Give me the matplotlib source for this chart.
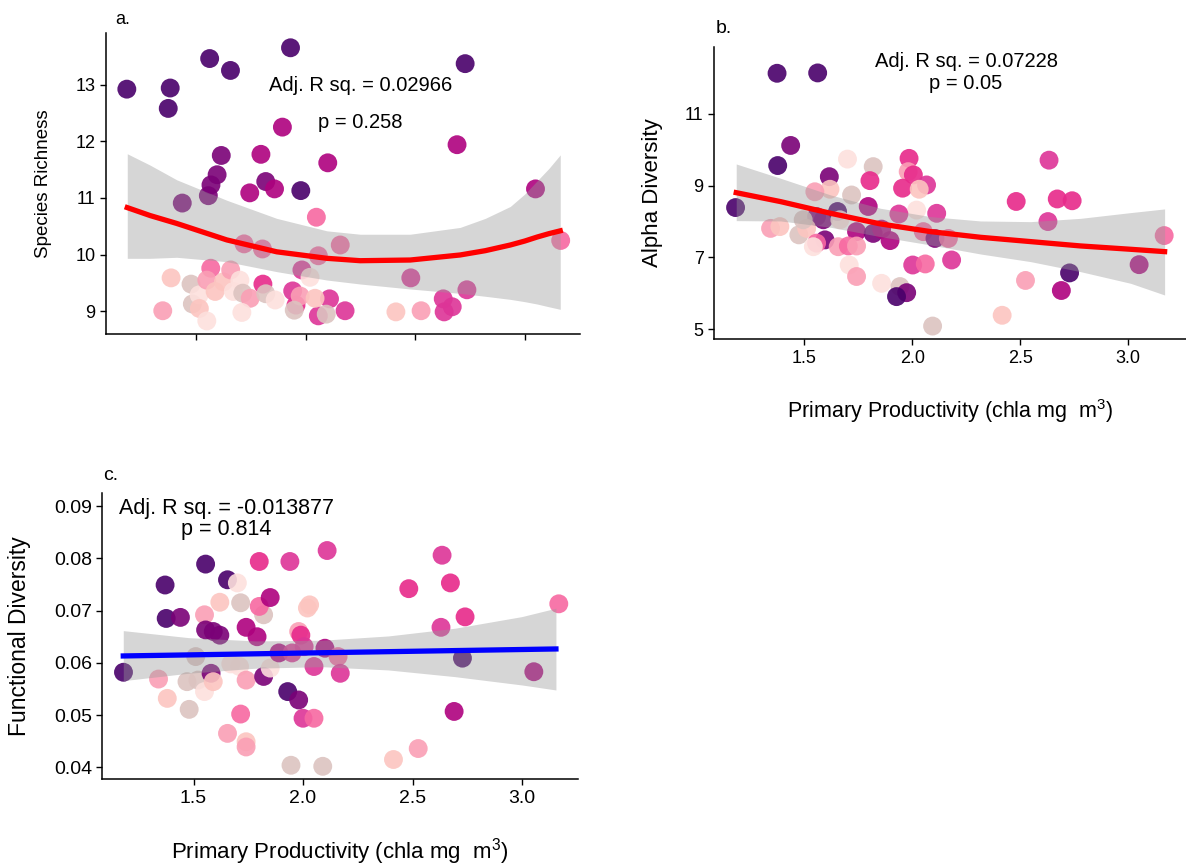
import numpy as np
import matplotlib
matplotlib.use("Agg")
import matplotlib.pyplot as plt
from matplotlib.ticker import FormatStrFormatter

plt.rcParams['font.family'] = ['Liberation Sans', 'DejaVu Sans']
plt.rcParams['mathtext.fontset'] = 'custom'
plt.rcParams['mathtext.rm'] = 'Liberation Sans'

#colour classes (RdPu style) used by the points
palette = {
    'dp': '#49006a', 'pu': '#7a0177', 'mg': '#ae017e', 'pm': '#dd3497',
    'hp': '#e7298a', 'pk': '#f768a1', 'lp': '#fa9fb5', 'pe': '#fcc5c0',
    'vl': '#fde0dd', 'gp': '#dcc3c0',
}

#panel a - species richness
a_x = [1.184, 1.382, 1.373, 1.562, 1.657, 1.931, 2.728, 1.894, 2.691, 1.615,
       1.796, 1.596, 1.568, 1.556, 1.818, 1.858, 1.745, 1.978, 2.101, 1.437,
       3.049, 2.049, 1.719, 1.803, 2.058, 2.158, 1.983, 2.020, 2.480, 3.164,
       2.736, 2.628, 2.669, 2.632, 2.412, 2.527, 2.180, 2.109, 2.058, 2.094,
       1.956, 1.941, 1.975, 2.043, 1.805, 1.948, 1.386, 1.348, 1.477, 1.483,
       1.514, 1.515, 1.549, 1.567, 1.549, 1.587, 1.625, 1.658, 1.670, 1.700,
       1.713, 1.747, 1.709, 1.818, 1.861]
a_y = [12.92, 12.94, 12.58, 13.46, 13.25, 13.65, 13.37, 12.25, 11.94, 11.75,
       11.77, 11.41, 11.23, 11.04, 11.29, 11.16, 11.09, 11.13, 11.62, 10.91,
       11.16, 10.66, 10.19, 10.10, 9.98, 10.17, 9.73, 9.60, 9.59, 10.25,
       9.38, 9.22, 9.08, 8.99, 8.99, 9.01, 9.01, 9.22, 8.92, 8.95,
       9.11, 9.36, 9.27, 9.23, 9.48, 9.02, 9.59, 9.01, 9.48, 9.13,
       9.29, 9.05, 8.83, 9.76, 9.55, 9.35, 9.52, 9.73, 9.35, 9.55,
       9.32, 9.23, 8.98, 9.31, 9.20]
a_grp = ['dp', 'dp', 'dp', 'dp', 'dp', 'dp', 'dp', 'mg', 'mg', 'pu',
         'mg', 'pu', 'pu', 'pu', 'pu', 'mg', 'mg', 'dp', 'mg', 'pu',
         'mg', 'pk', 'pk', 'pk', 'pk', 'pk', 'pm', 'vl', 'pm', 'pk',
         'pm', 'pm', 'pm', 'pm', 'pe', 'lp', 'pm', 'pm', 'pm', 'gp',
         'hp', 'pm', 'lp', 'pe', 'hp', 'gp', 'pe', 'lp', 'gp', 'gp',
         'vl', 'pe', 'vl', 'pk', 'lp', 'pe', 'pe', 'lp', 'vl', 'vl',
         'gp', 'lp', 'vl', 'gp', 'vl']

#fitted curve (quadratic) and its confidence band
a_fit_x = [1.186, 1.29, 1.412, 1.640, 1.868, 2.097, 2.249, 2.477, 2.705, 2.82,
           2.934, 3.0, 3.056, 3.11, 3.162]
a_fit_y = [10.83, 10.69, 10.55, 10.26, 10.05, 9.935, 9.893, 9.905, 9.994, 10.07,
           10.17, 10.24, 10.31, 10.37, 10.42]
a_fit_hi = [11.78, 11.58, 11.32, 10.96, 10.64, 10.42, 10.36, 10.36, 10.48, 10.64,
            10.85, 11.07, 11.30, 11.52, 11.76]
a_fit_lo = [9.935, 9.935, 9.953, 9.876, 9.70, 9.552, 9.482, 9.394, 9.317, 9.265,
            9.211, 9.17, 9.129, 9.08, 9.035]

#panel b - alpha diversity
b_x = [1.182, 1.437, 1.377, 1.374, 1.562, 1.700, 1.819, 1.985, 1.981, 2.005,
       2.066, 1.955, 2.032, 1.804, 1.616, 1.619, 1.549, 1.719, 1.796, 2.020,
       1.938, 2.113, 1.557, 1.588, 1.654, 1.344, 1.387, 1.475, 1.511, 1.495,
       1.665, 1.742, 1.819, 1.858, 1.897, 2.051, 2.105, 2.167, 1.596, 1.557,
       1.542, 1.657, 1.704, 1.742, 1.708, 1.742, 1.858, 1.943, 1.974, 1.927,
       2.002, 2.060, 2.182, 2.094, 2.481, 2.633, 2.628, 2.671, 2.740, 2.524,
       2.416, 2.728, 2.690, 3.050, 3.166]
b_y = [8.39, 10.12, 9.56, 12.13, 12.14, 9.74, 9.53, 9.76, 9.39, 9.30,
       9.02, 8.93, 8.90, 9.14, 9.25, 8.90, 8.83, 8.74, 8.42, 8.32,
       8.21, 8.23, 8.14, 8.05, 8.28, 7.81, 7.86, 7.63, 7.81, 8.05,
       8.05, 7.72, 7.67, 7.79, 7.47, 7.72, 7.53, 7.53, 7.49, 7.40,
       7.30, 7.30, 7.32, 7.32, 6.79, 6.47, 6.28, 6.19, 6.02, 5.91,
       6.79, 6.82, 6.93, 5.09, 8.56, 9.71, 8.00, 8.63, 8.58, 6.36,
       5.39, 6.57, 6.08, 6.80, 7.61]
b_grp = ['dp', 'pu', 'dp', 'dp', 'dp', 'vl', 'gp', 'hp', 'lp', 'hp',
         'pm', 'hp', 'pe', 'hp', 'pu', 'pe', 'lp', 'gp', 'mg', 'vl',
         'pm', 'pm', 'pu', 'pu', 'dp', 'lp', 'pe', 'gp', 'pe', 'gp',
         'vl', 'mg', 'pu', 'mg', 'mg', 'pk', 'pu', 'pk', 'pu', 'pk',
         'vl', 'lp', 'pk', 'lp', 'vl', 'lp', 'vl', 'gp', 'pu', 'dp',
         'pm', 'pk', 'pm', 'gp', 'hp', 'pm', 'pm', 'hp', 'hp', 'lp',
         'pe', 'dp', 'mg', 'mg', 'pk']

b_fit_x = [1.185, 1.391, 1.622, 1.853, 2.085, 2.316, 2.548, 2.779, 3.011, 3.168]
b_fit_y = [8.805, 8.555, 8.23, 7.934, 7.72, 7.562, 7.442, 7.321, 7.228, 7.163]
b_fit_hi = [9.604, 9.205, 8.741, 8.37, 8.138, 8.017, 7.998, 8.09, 8.25, 8.352]
b_fit_lo = [8.026, 8.017, 7.841, 7.58, 7.348, 7.097, 6.884, 6.605, 6.28, 5.955]

#panel c - functional diversity
c_x = [1.180, 1.340, 1.380, 1.370, 1.375, 1.440, 1.480, 1.510, 1.470, 1.520,
       1.550, 1.550, 1.555, 1.555, 1.590, 1.620, 1.580, 1.590, 1.620, 1.655,
       1.700, 1.715, 1.670, 1.710, 1.740, 1.715, 1.655, 1.740, 1.740, 1.740,
       1.790, 1.820, 1.800, 1.800, 1.850, 1.820, 1.850, 1.890, 1.930, 1.980,
       1.940, 1.950, 1.980, 1.990, 2.005, 2.020, 2.030, 1.945, 2.090, 2.000,
       2.050, 2.110, 2.100, 2.050, 2.160, 2.170, 2.483, 2.413, 2.526, 2.630,
       2.635, 2.673, 2.690, 2.728, 2.740, 3.054, 3.168]
c_y = [0.0582, 0.0569, 0.0532, 0.0749, 0.0685, 0.0687, 0.0511, 0.0612, 0.0564, 0.0567,
       0.0545, 0.0692, 0.0789, 0.0663, 0.0660, 0.0653, 0.0580, 0.0564, 0.0716, 0.0759,
       0.0753, 0.0715, 0.0598, 0.0593, 0.0567, 0.0502, 0.0465, 0.0449, 0.0439, 0.0668,
       0.0650, 0.0692, 0.0794, 0.0708, 0.0725, 0.0574, 0.0590, 0.0619, 0.0545, 0.0529,
       0.0794, 0.0619, 0.0660, 0.0653, 0.0631, 0.0705, 0.0711, 0.0404, 0.0402, 0.0494,
       0.0494, 0.0815, 0.0628, 0.0593, 0.0612, 0.0580, 0.0742, 0.0415, 0.0436, 0.0668,
       0.0806, 0.0753, 0.0507, 0.0609, 0.0688, 0.0583, 0.0713]
c_grp = ['dp', 'lp', 'pe', 'dp', 'dp', 'pu', 'gp', 'gp', 'gp', 'gp',
         'vl', 'lp', 'dp', 'pu', 'pu', 'pu', 'pu', 'pe', 'pe', 'dp',
         'vl', 'gp', 'vl', 'vl', 'lp', 'pk', 'lp', 'pe', 'lp', 'mg',
         'mg', 'gp', 'hp', 'pk', 'mg', 'pu', 'vl', 'mg', 'dp', 'pu',
         'pm', 'pm', 'lp', 'hp', 'pm', 'pe', 'pe', 'gp', 'gp', 'pm',
         'pk', 'pm', 'mg', 'pm', 'pk', 'pm', 'hp', 'pe', 'lp', 'pm',
         'pm', 'hp', 'mg', 'dp', 'hp', 'mg', 'pk']

#straight line fit: only the two ends are needed, band sampled along x
c_fit_x = [1.179, 3.155]
c_fit_y = [0.06132, 0.06266]
c_band_x = [1.179, 1.476, 1.781, 2.085, 2.390, 2.694, 2.999, 3.155]
c_fit_hi = [0.06617, 0.06483, 0.0642, 0.06433, 0.06515, 0.06663, 0.06885, 0.07046]
c_fit_lo = [0.05659, 0.05801, 0.05897, 0.05927, 0.05864, 0.05736, 0.05577, 0.05481]

xlab = 'Primary Productivity (chla mg  m$^{3}$)'


def draw_panel(ax, x, y, grp, fit_x, fit_y, band_x, lo, hi, line_col):
    cols = [palette[g] for g in grp]
    ax.scatter(x, y, c=cols, s=185, alpha=0.9, linewidths=0, zorder=2)
    #band goes over the points, like geom_smooth
    ax.fill_between(band_x, lo, hi, color='#999999', alpha=0.4, linewidth=0, zorder=3)
    ax.plot(fit_x, fit_y, color=line_col, lw=3.8, zorder=4, solid_joinstyle='round')
    for side in ['top', 'right']:
        ax.spines[side].set_visible(False)
    for side in ['left', 'bottom']:
        ax.spines[side].set_linewidth(1.1)
    ax.tick_params(direction='out', length=4, width=1.0, labelsize=13, colors='black')


fig = plt.figure(figsize=(11.86, 8.65), dpi=100)

#a.
ax_a = fig.add_axes([0.0892, 0.6135, 0.4, 0.3483])
draw_panel(ax_a, a_x, a_y, a_grp, a_fit_x, a_fit_y, a_fit_x, a_fit_lo, a_fit_hi, 'red')
ax_a.set_xlim(1.088, 3.253)
ax_a.set_ylim(8.594, 13.91)
ax_a.set_xticks([1.5, 2.0, 2.5, 3.0])
ax_a.set_yticks([9, 10, 11, 12, 13])
ax_a.tick_params(labelbottom=False)
ax_a.set_ylabel('Species Richness', fontsize=13.5)
ax_a.yaxis.set_label_coords(-0.113, 0.5)
ax_a.text(2.249, 12.98, 'Adj. R sq. = 0.02966', fontsize=14.5, ha='center', va='center')
ax_a.text(2.249, 12.33, 'p = 0.258', fontsize=14.5, ha='center', va='center')
ax_a.text(0.02, 1.046, 'a.', transform=ax_a.transAxes, fontsize=13, ha='left', va='center')

#b.
ax_b = fig.add_axes([0.602, 0.6077, 0.398, 0.3383])
draw_panel(ax_b, b_x, b_y, b_grp, b_fit_x, b_fit_y, b_fit_x, b_fit_lo, b_fit_hi, 'red')
ax_b.set_xlim(1.082, 3.267)
ax_b.set_ylim(4.72, 12.87)
ax_b.set_xticks([1.5, 2.0, 2.5, 3.0])
ax_b.set_yticks([5, 7, 9, 11])
ax_b.xaxis.set_major_formatter(FormatStrFormatter('%.1f'))
ax_b.set_ylabel('Alpha Diversity', fontsize=16)
ax_b.yaxis.set_label_coords(-0.107, 0.5)
ax_b.set_xlabel(xlab, fontsize=15.5)
ax_b.xaxis.set_label_coords(0.5, -0.246)
ax_b.xaxis.label.set_va('center')
ax_b.text(2.249, 12.47, 'Adj. R sq. = 0.07228', fontsize=14.5, ha='center', va='center')
ax_b.text(2.249, 11.85, 'p = 0.05', fontsize=14.5, ha='center', va='center')
ax_b.text(0.004, 1.063, 'b.', transform=ax_b.transAxes, fontsize=14, ha='left', va='center')

#c.
ax_c = fig.add_axes([0.0864, 0.099, 0.401, 0.331])
draw_panel(ax_c, c_x, c_y, c_grp, c_fit_x, c_fit_y, c_band_x, c_fit_lo, c_fit_hi, 'blue')
ax_c.set_xlim(1.084, 3.256)
ax_c.set_ylim(0.0377, 0.0925)
ax_c.set_xticks([1.5, 2.0, 2.5, 3.0])
ax_c.set_yticks([0.04, 0.05, 0.06, 0.07, 0.08, 0.09])
ax_c.xaxis.set_major_formatter(FormatStrFormatter('%.1f'))
ax_c.yaxis.set_major_formatter(FormatStrFormatter('%.2f'))
ax_c.tick_params(labelsize=14)
ax_c.set_ylabel('Functional Diversity', fontsize=16.5)
ax_c.yaxis.set_label_coords(-0.150, 0.5)
ax_c.set_xlabel(xlab, fontsize=16)
ax_c.xaxis.set_label_coords(0.5, -0.253)
ax_c.xaxis.label.set_va('center')
ax_c.text(1.65, 0.0896, 'Adj. R sq. = -0.013877', fontsize=15.5, ha='center', va='center')
ax_c.text(1.65, 0.0855, 'p = 0.814', fontsize=15.5, ha='center', va='center')
ax_c.text(0.002, 1.063, 'c.', transform=ax_c.transAxes, fontsize=14, ha='left', va='center')

fig.savefig('out.png', dpi=100)
